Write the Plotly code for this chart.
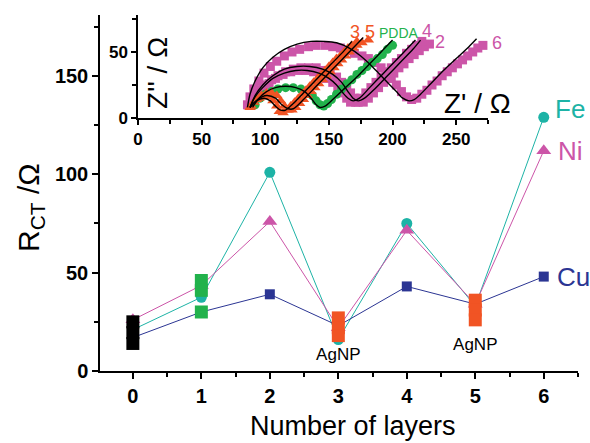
import plotly.graph_objects as go

# ---------------- main chart data ----------------
layers = [0, 1, 2, 3, 4, 5, 6]
fe_rct = [21, 37.5, 101, 16, 75, 33, 129]
ni_rct = [26, 43.5, 76, 22, 71.5, 34, 112]
cu_rct = [17, 30, 39, 23, 43, 34, 48]

# highlighted layer markers (bare = black, PDDA = green, AgNP = orange)
bare_x = [0, 0, 0]
bare_y = [25, 19.5, 14]
pdda_x = [1, 1, 1]
pdda_y = [46, 41, 30]
agnp_x = [3, 3, 3, 5, 5, 5]
agnp_y = [27, 22, 18, 36, 31, 26]

agnp_lbl_x = [3, 5]
agnp_lbl_y = [8, 13]

# ---------------- inset (Nyquist) data ----------------
l6_x = [86, 88, 91, 95, 99, 104, 109, 115, 121, 127, 134, 140, 147, 153, 159, 165, 170, 176, 181, 186, 191, 195, 199, 203, 207, 211, 215, 219, 223, 227, 231, 235, 239, 243, 247, 251, 255, 259, 263, 267, 271]
l6_y = [10, 16, 22, 28, 34, 39, 43, 47, 50, 52, 54, 55, 55, 54, 53, 51, 49, 47, 45, 42, 38, 34, 30, 25, 20, 16, 14, 15, 18, 21, 25, 28, 32, 35, 38, 41, 44, 47, 50, 53, 55]

l2_x = [89, 92, 96, 100, 105, 110, 116, 122, 128, 134, 140, 146, 151, 156, 160, 164, 167, 170, 173, 177, 181, 185, 189, 193, 197, 201, 205, 209, 213, 217, 221, 225, 229]
l2_y = [10, 16, 21, 25, 29, 32, 35, 37, 38, 38, 38, 36, 34, 31, 27, 23, 19, 15, 12, 12, 15, 19, 23, 27, 30, 34, 38, 41, 45, 48, 51, 54, 56]

l4_x = [90, 94, 98, 103, 108, 114, 120, 126, 132, 138, 143, 148, 153, 157, 161, 164, 167, 171, 175, 179, 183, 187, 191, 195, 199, 203, 207, 211, 215, 219, 223]
l4_y = [11, 17, 22, 26, 30, 33, 35, 36, 36, 35, 33, 30, 27, 23, 19, 15, 12, 12, 15, 19, 23, 27, 31, 35, 38, 42, 45, 49, 52, 55, 58]

pd_x = [92, 96, 100, 105, 110, 116, 122, 128, 133, 137, 140, 143, 146, 149, 152, 156, 160, 164, 168, 172, 176, 180, 184, 188, 192, 196, 200]
pd_y = [10, 15, 18, 20, 22, 23, 23, 22, 20, 17, 13, 10, 9, 11, 14, 18, 22, 26, 29, 33, 36, 39, 42, 45, 48, 52, 55]

l3_x = [88, 91, 95, 99, 103, 106, 109, 111, 114, 117, 120, 123, 126, 129, 132, 135, 138, 141, 144, 147, 150, 153, 156, 159, 162, 165, 168, 172]
l3_y = [8, 12, 15, 16, 16, 13, 9, 5, 4, 6, 9, 12, 15, 18, 21, 24, 27, 30, 33, 36, 39, 42, 45, 47, 50, 53, 55, 58]

l5_x = [89, 93, 97, 101, 105, 109, 112, 115, 118, 121, 124, 127, 130, 133, 136, 139, 142, 145, 148, 151, 154, 157, 160, 163, 166, 169, 172, 176, 181]
l5_y = [9, 14, 17, 19, 19, 17, 13, 9, 6, 6, 8, 11, 14, 17, 20, 23, 26, 29, 32, 35, 38, 41, 44, 47, 50, 53, 55, 57, 59]

# fitted curves (black lines)
f6_x = [86, 88, 92, 98, 106, 115, 125, 136, 146, 156, 166, 175, 183, 190, 197, 203, 208, 213, 217, 222, 230, 240, 250, 260, 266]
f6_y = [8, 18, 28, 38, 46, 52, 56, 58, 58, 57, 53, 47, 40, 33, 26, 20, 15, 13, 14, 18, 26, 36, 45, 54, 60]
f2_x = [88, 92, 98, 106, 115, 125, 135, 145, 153, 160, 165, 169, 173, 178, 186, 196, 206, 216, 222]
f2_y = [8, 17, 25, 32, 37, 39, 39, 37, 33, 27, 20, 15, 13, 15, 22, 32, 42, 52, 59]
f4_x = [88, 92, 98, 106, 115, 124, 133, 142, 150, 156, 161, 165, 169, 174, 182, 192, 202, 212, 218]
f4_y = [8, 16, 23, 30, 34, 36, 36, 34, 30, 25, 19, 15, 13, 15, 23, 33, 43, 53, 59]
fp_x = [90, 95, 101, 108, 116, 124, 131, 136, 140, 143, 147, 153, 163, 173, 183, 193, 200]
fp_y = [8, 15, 20, 23, 24, 23, 20, 15, 10, 8, 9, 14, 23, 32, 42, 52, 59]
f3_x = [88, 93, 99, 104, 108, 112, 116, 122, 132, 142, 152, 162, 168]
f3_y = [8, 13, 15, 13, 9, 6, 6, 11, 21, 31, 41, 51, 58]
f5_x = [88, 94, 101, 108, 113, 118, 122, 130, 140, 150, 160, 170, 177]
f5_y = [8, 14, 17, 15, 10, 7, 7, 14, 24, 34, 44, 54, 61]

# colours
FE = "#1db3a6"
NI = "#cc55a8"
CU = "#2b3593"
GREEN = "#22b24c"
ORANGE = "#f15424"
FONT = "Liberation Sans, Arial, Helvetica, sans-serif"

fig = go.Figure()

# main series
fig.add_trace(go.Scatter(x=layers, y=fe_rct, mode="lines+markers",
                         line=dict(color=FE, width=1),
                         marker=dict(symbol="circle", size=11, color=FE),
                         showlegend=False))
fig.add_trace(go.Scatter(x=layers, y=ni_rct, mode="lines+markers",
                         line=dict(color=NI, width=1),
                         marker=dict(symbol="triangle-up", size=13, color=NI),
                         showlegend=False))
fig.add_trace(go.Scatter(x=layers, y=cu_rct, mode="lines+markers",
                         line=dict(color=CU, width=1),
                         marker=dict(symbol="square", size=10, color=CU),
                         showlegend=False))
fig.add_trace(go.Scatter(x=bare_x, y=bare_y, mode="markers",
                         marker=dict(symbol="square", size=13, color="black"),
                         showlegend=False))
fig.add_trace(go.Scatter(x=pdda_x, y=pdda_y, mode="markers",
                         marker=dict(symbol="square", size=13, color=GREEN),
                         showlegend=False))
fig.add_trace(go.Scatter(x=agnp_x, y=agnp_y, mode="markers",
                         marker=dict(symbol="square", size=13, color=ORANGE),
                         showlegend=False))
fig.add_trace(go.Scatter(x=agnp_lbl_x, y=agnp_lbl_y, mode="text",
                         text=["AgNP", "AgNP"],
                         textfont=dict(family=FONT, size=17, color="black"),
                         showlegend=False))

# inset series
def inset_markers(xs, ys, sym, size, color):
    fig.add_trace(go.Scatter(x=xs, y=ys, mode="markers", xaxis="x2", yaxis="y2",
                             marker=dict(symbol=sym, size=size, color=color),
                             showlegend=False))

inset_markers(l6_x, l6_y, "square", 9, NI)
inset_markers(l2_x, l2_y, "square", 9, NI)
inset_markers(l4_x, l4_y, "square", 9, NI)
inset_markers(pd_x, pd_y, "circle", 9, GREEN)
inset_markers(l3_x, l3_y, "triangle-up", 10, ORANGE)
inset_markers(l5_x, l5_y, "triangle-up", 10, ORANGE)

for fx, fy in [(f6_x, f6_y), (f2_x, f2_y), (f4_x, f4_y), (fp_x, fp_y), (f3_x, f3_y), (f5_x, f5_y)]:
    fig.add_trace(go.Scatter(x=fx, y=fy, mode="lines", xaxis="x2", yaxis="y2",
                             line=dict(color="black", width=1.4, shape="spline", smoothing=0.8),
                             showlegend=False))

L, R, T, B = 100, 12, 15, 72
W, H = 590, 443
PW, PH = W - L - R, H - T - B


def px(x):
    return (x - L) / PW


def py(y):
    return (H - B - y) / PH


axis_common = dict(showline=True, linecolor="black", linewidth=1.5, ticks="outside",
                   tickcolor="black", tickwidth=1.5, showgrid=False, zeroline=False,
                   mirror=False)

fig.update_layout(
    width=W, height=H,
    margin=dict(l=L, r=R, t=T, b=B),
    paper_bgcolor="white", plot_bgcolor="rgba(0,0,0,0)",
    font=dict(family=FONT, color="black"),
    xaxis=dict(**axis_common, range=[-0.48, 6.5], tickmode="linear", tick0=0, dtick=1,
               ticklen=6, tickfont=dict(size=20, family=FONT, weight="bold"),
               minor=dict(ticks="outside", dtick=0.5, tick0=0, ticklen=4, tickcolor="black", tickwidth=1.5),
               domain=[0, 1]),
    yaxis=dict(**axis_common, range=[0, 181], tickmode="linear", tick0=0, dtick=50,
               ticklen=6, tickfont=dict(size=20, family=FONT, weight="bold"),
               minor=dict(ticks="outside", dtick=25, tick0=0, ticklen=4, tickcolor="black", tickwidth=1.5),
               domain=[0, 1]),
    xaxis2=dict(**axis_common, range=[0, 275], tickmode="linear", tick0=0, dtick=50,
                ticklen=5, tickfont=dict(size=17, family=FONT, weight="bold"),
                minor=dict(ticks="outside", dtick=25, tick0=0, ticklen=4, tickcolor="black", tickwidth=1.5),
                domain=[px(138), px(488)], anchor="y2"),
    yaxis2=dict(**axis_common, range=[0, 78], tickmode="linear", tick0=0, dtick=50,
                ticklen=5, tickfont=dict(size=17, family=FONT, weight="bold"),
                minor=dict(ticks="outside", dtick=25, tick0=0, ticklen=4, tickcolor="black", tickwidth=1.5),
                domain=[py(118), 1.0], anchor="x2"),
)

ann = []


def add_text(t, x, y, size, color="black", angle=0):
    ann.append(dict(x=px(x), y=py(y), xref="paper", yref="paper", text=t,
                    showarrow=False, textangle=angle, xanchor="center", yanchor="middle",
                    font=dict(size=size, family=FONT, color=color)))


# axis titles
add_text("Number of layers", 353, 426, 27)
add_text("R<sub>CT</sub> /Ω", 30, 208, 30, angle=-90)
add_text("Z'' / Ω", 158, 73, 28, angle=-90)
add_text("Z' / Ω", 477, 103, 28)
# series labels
add_text("Fe", 570, 109, 26, FE)
add_text("Ni", 570, 151, 26, NI)
add_text("Cu", 573, 277, 26, CU)
# inset curve labels
for t, xx, yy, c, s in [("3", 355, 32, ORANGE, 18), ("5", 370, 32, ORANGE, 18),
                        ("PDDA", 399, 33, GREEN, 14), ("4", 427, 31, NI, 18),
                        ("2", 440, 42, NI, 18), ("6", 497, 43, NI, 18)]:
    add_text(t, xx, yy, s, c)

fig.update_layout(annotations=ann)

fig.write_html("out.html")
